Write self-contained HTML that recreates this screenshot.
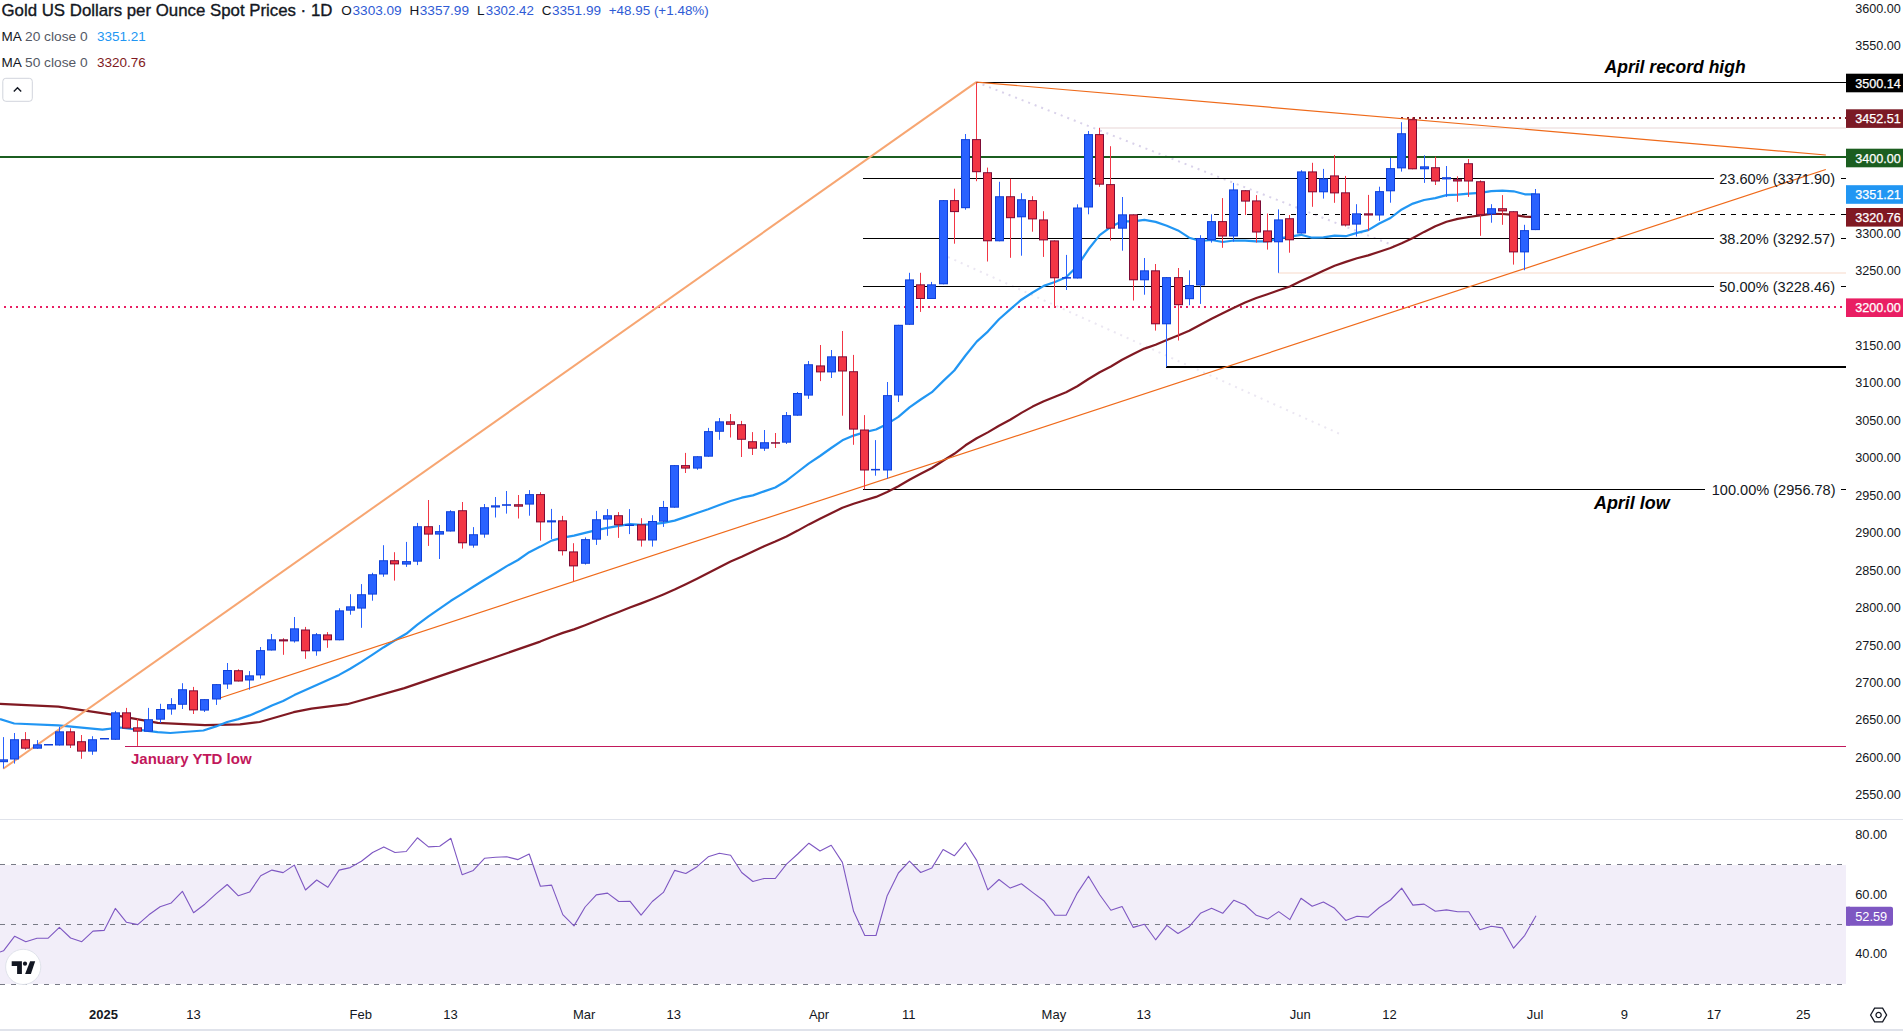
<!DOCTYPE html><html><head><meta charset="utf-8"><style>
html,body{margin:0;padding:0;background:#fff;}
body{width:1903px;height:1031px;overflow:hidden;position:relative;}
svg{position:absolute;left:0;top:0;}
text{font-family:"Liberation Sans", sans-serif;}
</style></head><body>
<svg width="1903" height="1031" viewBox="0 0 1903 1031">

<rect x="0" y="865.1" width="1846" height="118.9" fill="#f2eef9"/>
<line x1="0" y1="864.5" x2="1846" y2="864.5" stroke="#787b86" stroke-width="1" stroke-dasharray="5 6"/>
<line x1="0" y1="924.5" x2="1846" y2="924.5" stroke="#787b86" stroke-width="1" stroke-dasharray="5 6"/>
<line x1="0" y1="984.5" x2="1846" y2="984.5" stroke="#787b86" stroke-width="1" stroke-dasharray="5 6"/>
<polyline fill="none" stroke="#7e57c2" stroke-width="1.1" stroke-linejoin="round" points="0.0,952.0 3.5,950.8 14.7,936.2 25.8,941.7 37.0,938.2 48.2,938.2 59.4,927.4 70.6,938.0 81.8,941.7 93.0,931.1 104.1,930.4 115.3,908.4 126.5,922.3 137.7,924.6 148.9,914.8 160.1,906.7 171.3,902.9 182.4,891.3 193.6,912.7 204.8,904.2 216.0,893.8 227.2,884.5 238.4,895.8 249.6,892.1 260.7,875.7 271.9,870.1 283.1,872.6 294.3,865.1 305.5,890.0 316.7,880.0 327.9,887.3 339.1,870.1 350.2,867.6 361.4,861.3 372.6,852.5 383.8,846.9 395.0,852.5 406.2,851.5 417.4,837.8 428.5,846.9 439.7,846.2 450.9,838.3 462.1,874.7 473.3,870.4 484.5,858.3 495.7,857.3 506.8,856.8 518.0,859.6 529.2,854.0 540.4,886.3 551.6,885.1 562.8,914.6 574.0,925.9 585.1,907.0 596.3,894.9 607.5,893.1 618.7,901.5 629.9,901.2 641.1,915.1 652.3,901.5 663.4,892.4 674.6,870.4 685.8,873.5 697.0,866.7 708.2,856.8 719.4,853.3 730.6,855.3 741.7,872.5 752.9,881.5 764.1,878.5 775.3,878.5 786.5,864.1 797.7,854.0 808.9,843.2 820.0,851.0 831.2,845.2 842.4,862.4 853.6,911.3 864.8,935.5 876.0,935.5 887.2,895.7 898.4,873.0 909.5,861.1 920.7,872.5 931.9,867.9 943.1,849.5 954.3,855.8 965.5,842.7 976.7,860.4 987.8,889.9 999.0,879.5 1010.2,888.1 1021.4,883.8 1032.6,892.4 1043.8,900.7 1055.0,915.3 1066.1,915.3 1077.3,893.1 1088.5,876.2 1099.7,894.7 1110.9,910.3 1122.1,906.5 1133.3,927.4 1144.4,924.2 1155.6,939.8 1166.8,925.4 1178.0,933.5 1189.2,926.7 1200.4,913.3 1211.6,908.3 1222.7,913.3 1233.9,900.2 1245.1,905.0 1256.3,915.3 1267.5,919.1 1278.7,911.6 1289.9,919.6 1301.0,898.2 1312.2,906.3 1323.4,902.0 1334.6,908.3 1345.8,920.4 1357.0,916.3 1368.2,917.1 1379.3,907.5 1390.5,900.0 1401.7,888.1 1412.9,905.1 1424.1,904.1 1435.3,911.2 1446.5,909.9 1457.7,911.7 1468.8,911.7 1480.0,929.7 1491.2,926.3 1502.4,927.9 1513.6,948.2 1524.8,935.3 1536.0,915.7"/>
<rect x="0" y="819" width="1903" height="1" fill="#e0e3eb"/>
<rect x="0" y="1029" width="1903" height="2" fill="#e0e3eb"/>
<line x1="976" y1="82" x2="1400" y2="248" stroke="#d9d2ea" stroke-width="2" stroke-dasharray="2 5"/>
<line x1="948" y1="257" x2="1343.5" y2="435.6" stroke="#ebe7f2" stroke-width="2" stroke-dasharray="2 5"/>
<line x1="1100" y1="128" x2="1846" y2="128" stroke="#f3eaea" stroke-width="2" opacity="1"/>
<line x1="1278" y1="273" x2="1846" y2="273" stroke="#fbece4" stroke-width="2" opacity="1"/>
<line x1="976" y1="82.5" x2="1846" y2="82.5" stroke="#000000" stroke-width="1" opacity="1"/>
<line x1="1401" y1="118" x2="1846" y2="118" stroke="#801922" stroke-width="2" stroke-dasharray="2 4" opacity="1"/>
<line x1="0" y1="157" x2="1846" y2="157" stroke="#1b5e20" stroke-width="2" opacity="1"/>
<line x1="1137" y1="214.5" x2="1846" y2="214.5" stroke="#000000" stroke-width="1" stroke-dasharray="5 6" opacity="1"/>
<line x1="863" y1="178.5" x2="1714" y2="178.5" stroke="#000000" stroke-width="1" opacity="1"/>
<line x1="1841" y1="178.5" x2="1846" y2="178.5" stroke="#000000" stroke-width="1" opacity="1"/>
<line x1="863" y1="238.5" x2="1714" y2="238.5" stroke="#000000" stroke-width="1" opacity="1"/>
<line x1="1841" y1="238.5" x2="1846" y2="238.5" stroke="#000000" stroke-width="1" opacity="1"/>
<line x1="863" y1="286.5" x2="1714" y2="286.5" stroke="#000000" stroke-width="1" opacity="1"/>
<line x1="1841" y1="286.5" x2="1846" y2="286.5" stroke="#000000" stroke-width="1" opacity="1"/>
<line x1="863" y1="489.5" x2="1705" y2="489.5" stroke="#000000" stroke-width="1" opacity="1"/>
<line x1="1841" y1="489.5" x2="1846" y2="489.5" stroke="#000000" stroke-width="1" opacity="1"/>
<line x1="4" y1="307" x2="1846" y2="307" stroke="#e91e63" stroke-width="2" stroke-dasharray="2 4" opacity="1"/>
<line x1="1166" y1="367" x2="1846" y2="367" stroke="#000000" stroke-width="2" opacity="1"/>
<line x1="125" y1="746.5" x2="1846" y2="746.5" stroke="#c2185b" stroke-width="1" opacity="1"/>
<polyline fill="none" stroke="#801922" stroke-width="2.2" stroke-linejoin="round" points="0.0,703.8 58.3,706.6 110.4,714.4 157.7,722.8 205.0,725.2 240.0,724.4 259.7,722.0 293.6,712.2 311.5,708.6 347.2,704.2 404.4,688.1 454.4,671.1 493.7,657.7 540.2,641.6 551.6,637.0 562.8,632.9 574.0,629.4 585.1,625.2 596.3,620.7 607.5,616.2 618.7,612.0 629.9,607.6 641.1,603.4 652.3,599.0 663.4,594.4 674.6,589.5 685.8,584.3 697.0,578.8 708.2,573.0 719.4,567.2 730.6,561.6 741.7,556.7 752.9,551.4 764.1,546.3 775.3,541.5 786.5,536.4 797.7,530.6 808.9,524.4 820.0,518.8 831.2,513.2 842.4,507.8 853.6,503.8 864.8,500.2 876.0,496.9 887.2,492.0 898.4,486.3 909.5,479.7 920.7,473.8 931.9,468.0 943.1,460.8 954.3,453.8 965.5,445.3 976.7,438.2 987.8,432.4 999.0,425.7 1010.2,419.8 1021.4,412.9 1032.6,406.6 1043.8,401.3 1055.0,396.8 1066.1,392.2 1077.3,386.2 1088.5,379.0 1099.7,372.3 1110.9,366.5 1122.1,359.7 1133.3,354.0 1144.4,348.6 1155.6,344.7 1166.8,340.0 1178.0,335.6 1189.2,330.8 1200.4,324.7 1211.6,318.7 1222.7,313.3 1233.9,307.8 1245.1,302.5 1256.3,298.0 1267.5,294.2 1278.7,290.2 1289.9,286.5 1301.0,281.1 1312.2,276.0 1323.4,270.7 1334.6,265.7 1345.8,261.9 1357.0,258.3 1368.2,255.4 1379.3,251.7 1390.5,248.0 1401.7,243.2 1412.9,238.0 1424.1,231.9 1435.3,226.2 1446.5,221.8 1457.7,218.9 1468.8,217.0 1480.0,215.3 1491.2,213.8 1502.4,214.0 1513.6,214.8 1524.8,216.6 1536.0,217.1"/>
<polyline fill="none" stroke="#2196f3" stroke-width="2.2" stroke-linejoin="round" points="0.0,719.0 14.2,723.5 58.3,725.3 102.5,729.6 119.8,727.5 157.7,732.2 170.3,733.0 203.4,730.5 216.0,726.4 227.2,722.0 238.4,719.1 249.6,715.4 260.7,710.7 271.9,705.5 283.1,701.0 294.3,695.1 305.5,690.1 316.7,684.9 327.9,680.0 339.1,674.9 350.2,668.8 361.4,661.9 372.6,654.6 383.8,647.2 395.0,640.2 406.2,633.8 417.4,624.6 428.5,616.4 439.7,608.7 450.9,600.8 462.1,593.9 473.3,586.8 484.5,579.7 495.7,573.0 506.8,566.1 518.0,560.0 529.2,552.2 540.4,546.6 551.6,540.6 562.8,537.6 574.0,535.6 585.1,532.9 596.3,530.1 607.5,527.9 618.7,525.9 629.9,524.1 641.1,524.8 652.3,524.1 663.4,522.9 674.6,520.6 685.8,516.9 697.0,513.0 708.2,509.2 719.4,505.0 730.6,501.0 741.7,497.7 752.9,495.4 764.1,491.4 775.3,487.5 786.5,480.7 797.7,472.0 808.9,463.3 820.0,456.0 831.2,448.0 842.4,440.3 853.6,435.6 864.8,432.1 876.0,429.5 887.2,423.9 898.4,416.9 909.5,407.4 920.7,399.5 931.9,392.2 943.1,381.1 954.3,370.5 965.5,355.5 976.7,341.6 987.8,331.6 999.0,319.3 1010.2,309.4 1021.4,299.7 1032.6,292.5 1043.8,285.9 1055.0,282.0 1066.1,277.3 1077.3,266.2 1088.5,249.3 1099.7,235.1 1110.9,226.8 1122.1,221.3 1133.3,221.3 1144.4,219.9 1155.6,221.9 1166.8,225.7 1178.0,230.4 1189.2,237.7 1200.4,241.0 1211.6,240.0 1222.7,242.0 1233.9,240.5 1245.1,240.7 1256.3,241.3 1267.5,241.4 1278.7,238.5 1289.9,236.6 1301.0,234.8 1312.2,237.7 1323.4,237.4 1334.6,235.7 1345.8,236.2 1357.0,232.9 1368.2,230.1 1379.3,223.5 1390.5,218.0 1401.7,209.4 1412.9,203.6 1424.1,200.0 1435.3,198.1 1446.5,195.1 1457.7,194.7 1468.8,193.7 1480.0,192.8 1491.2,191.1 1502.4,190.7 1513.6,191.3 1524.8,194.3 1536.0,194.3"/>
<line x1="3.2" y1="768.8" x2="976.3" y2="82.1" stroke="#f7a672" stroke-width="2"/>
<line x1="976.3" y1="82.1" x2="1825.8" y2="155" stroke="#ef6a1a" stroke-width="1.2"/>
<line x1="220.7" y1="697.8" x2="1825.8" y2="169.5" stroke="#ef6a1a" stroke-width="1.2"/>
<rect x="3.0" y="737.1" width="1" height="31.3" fill="#2962ff"/>
<rect x="-1.0" y="759.3" width="9" height="2.9" fill="#0f40d8"/>
<rect x="0.0" y="760.3" width="7" height="0.9" fill="#2962ff"/>
<rect x="14.0" y="733.0" width="1" height="30.6" fill="#2962ff"/>
<rect x="10.0" y="739.2" width="9" height="20.3" fill="#0f40d8"/>
<rect x="11.0" y="740.2" width="7" height="18.3" fill="#2962ff"/>
<rect x="25.0" y="732.1" width="1" height="17.6" fill="#f23645"/>
<rect x="21.0" y="739.2" width="9" height="9.5" fill="#7d0b35"/>
<rect x="22.0" y="740.2" width="7" height="7.5" fill="#f23645"/>
<rect x="37.0" y="740.1" width="1" height="8.6" fill="#2962ff"/>
<rect x="33.0" y="744.3" width="9" height="4.4" fill="#0f40d8"/>
<rect x="34.0" y="745.3" width="7" height="2.4" fill="#2962ff"/>
<rect x="48.0" y="744.0" width="1" height="1.0" fill="#2962ff"/>
<rect x="44.0" y="744.0" width="9" height="1.5" fill="#0f40d8"/>
<rect x="59.0" y="726.9" width="1" height="18.6" fill="#2962ff"/>
<rect x="55.0" y="731.3" width="9" height="14.2" fill="#0f40d8"/>
<rect x="56.0" y="732.3" width="7" height="12.2" fill="#2962ff"/>
<rect x="70.0" y="728.3" width="1" height="19.7" fill="#f23645"/>
<rect x="66.0" y="731.3" width="9" height="14.2" fill="#7d0b35"/>
<rect x="67.0" y="732.3" width="7" height="12.2" fill="#f23645"/>
<rect x="81.0" y="735.0" width="1" height="23.8" fill="#f23645"/>
<rect x="77.0" y="741.2" width="9" height="10.4" fill="#7d0b35"/>
<rect x="78.0" y="742.2" width="7" height="8.4" fill="#f23645"/>
<rect x="92.0" y="736.2" width="1" height="18.6" fill="#2962ff"/>
<rect x="88.0" y="739.2" width="9" height="12.4" fill="#0f40d8"/>
<rect x="89.0" y="740.2" width="7" height="10.4" fill="#2962ff"/>
<rect x="104.0" y="738.0" width="1" height="1.0" fill="#2962ff"/>
<rect x="100.0" y="738.0" width="9" height="1.5" fill="#0f40d8"/>
<rect x="115.0" y="710.9" width="1" height="28.9" fill="#2962ff"/>
<rect x="111.0" y="712.3" width="9" height="27.5" fill="#0f40d8"/>
<rect x="112.0" y="713.3" width="7" height="25.5" fill="#2962ff"/>
<rect x="126.0" y="707.9" width="1" height="20.7" fill="#f23645"/>
<rect x="122.0" y="712.3" width="9" height="16.3" fill="#7d0b35"/>
<rect x="123.0" y="713.3" width="7" height="14.3" fill="#f23645"/>
<rect x="137.0" y="718.8" width="1" height="27.1" fill="#f23645"/>
<rect x="133.0" y="727.3" width="9" height="4.4" fill="#7d0b35"/>
<rect x="134.0" y="728.3" width="7" height="2.4" fill="#f23645"/>
<rect x="148.0" y="707.9" width="1" height="23.8" fill="#2962ff"/>
<rect x="144.0" y="719.2" width="9" height="12.5" fill="#0f40d8"/>
<rect x="145.0" y="720.2" width="7" height="10.5" fill="#2962ff"/>
<rect x="160.0" y="703.8" width="1" height="19.1" fill="#2962ff"/>
<rect x="156.0" y="709.0" width="9" height="10.7" fill="#0f40d8"/>
<rect x="157.0" y="710.0" width="7" height="8.7" fill="#2962ff"/>
<rect x="171.0" y="698.1" width="1" height="16.6" fill="#2962ff"/>
<rect x="167.0" y="704.1" width="9" height="5.4" fill="#0f40d8"/>
<rect x="168.0" y="705.1" width="7" height="3.4" fill="#2962ff"/>
<rect x="182.0" y="683.2" width="1" height="25.8" fill="#2962ff"/>
<rect x="178.0" y="689.2" width="9" height="15.6" fill="#0f40d8"/>
<rect x="179.0" y="690.2" width="7" height="13.6" fill="#2962ff"/>
<rect x="193.0" y="686.9" width="1" height="27.1" fill="#f23645"/>
<rect x="189.0" y="690.3" width="9" height="20.1" fill="#7d0b35"/>
<rect x="190.0" y="691.3" width="7" height="18.1" fill="#f23645"/>
<rect x="204.0" y="699.1" width="1" height="12.9" fill="#2962ff"/>
<rect x="200.0" y="699.1" width="9" height="11.5" fill="#0f40d8"/>
<rect x="201.0" y="700.1" width="7" height="9.5" fill="#2962ff"/>
<rect x="216.0" y="684.1" width="1" height="20.8" fill="#2962ff"/>
<rect x="212.0" y="684.1" width="9" height="15.4" fill="#0f40d8"/>
<rect x="213.0" y="685.1" width="7" height="13.4" fill="#2962ff"/>
<rect x="227.0" y="663.0" width="1" height="25.9" fill="#2962ff"/>
<rect x="223.0" y="670.0" width="9" height="14.5" fill="#0f40d8"/>
<rect x="224.0" y="671.0" width="7" height="12.5" fill="#2962ff"/>
<rect x="238.0" y="669.3" width="1" height="12.2" fill="#f23645"/>
<rect x="234.0" y="670.2" width="9" height="11.3" fill="#7d0b35"/>
<rect x="235.0" y="671.2" width="7" height="9.3" fill="#f23645"/>
<rect x="249.0" y="671.1" width="1" height="18.6" fill="#2962ff"/>
<rect x="245.0" y="675.3" width="9" height="5.2" fill="#0f40d8"/>
<rect x="246.0" y="676.3" width="7" height="3.2" fill="#2962ff"/>
<rect x="260.0" y="647.0" width="1" height="31.7" fill="#2962ff"/>
<rect x="256.0" y="650.1" width="9" height="25.3" fill="#0f40d8"/>
<rect x="257.0" y="651.1" width="7" height="23.3" fill="#2962ff"/>
<rect x="271.0" y="634.0" width="1" height="16.5" fill="#2962ff"/>
<rect x="267.0" y="639.3" width="9" height="11.2" fill="#0f40d8"/>
<rect x="268.0" y="640.3" width="7" height="9.2" fill="#2962ff"/>
<rect x="283.0" y="638.2" width="1" height="16.6" fill="#f23645"/>
<rect x="279.0" y="639.3" width="9" height="2.1" fill="#7d0b35"/>
<rect x="280.0" y="640.3" width="7" height="0.1" fill="#f23645"/>
<rect x="294.0" y="617.0" width="1" height="25.6" fill="#2962ff"/>
<rect x="290.0" y="628.3" width="9" height="13.1" fill="#0f40d8"/>
<rect x="291.0" y="629.3" width="7" height="11.1" fill="#2962ff"/>
<rect x="305.0" y="626.9" width="1" height="31.9" fill="#f23645"/>
<rect x="301.0" y="629.5" width="9" height="21.8" fill="#7d0b35"/>
<rect x="302.0" y="630.5" width="7" height="19.8" fill="#f23645"/>
<rect x="316.0" y="633.0" width="1" height="22.7" fill="#2962ff"/>
<rect x="312.0" y="634.2" width="9" height="17.1" fill="#0f40d8"/>
<rect x="313.0" y="635.2" width="7" height="15.1" fill="#2962ff"/>
<rect x="327.0" y="632.1" width="1" height="15.7" fill="#f23645"/>
<rect x="323.0" y="634.4" width="9" height="5.9" fill="#7d0b35"/>
<rect x="324.0" y="635.4" width="7" height="3.9" fill="#f23645"/>
<rect x="339.0" y="608.2" width="1" height="32.1" fill="#2962ff"/>
<rect x="335.0" y="610.3" width="9" height="30.0" fill="#0f40d8"/>
<rect x="336.0" y="611.3" width="7" height="28.0" fill="#2962ff"/>
<rect x="350.0" y="594.2" width="1" height="20.5" fill="#2962ff"/>
<rect x="346.0" y="606.3" width="9" height="4.4" fill="#0f40d8"/>
<rect x="347.0" y="607.3" width="7" height="2.4" fill="#2962ff"/>
<rect x="361.0" y="584.1" width="1" height="43.7" fill="#2962ff"/>
<rect x="357.0" y="594.2" width="9" height="14.4" fill="#0f40d8"/>
<rect x="358.0" y="595.2" width="7" height="12.4" fill="#2962ff"/>
<rect x="372.0" y="572.8" width="1" height="27.9" fill="#2962ff"/>
<rect x="368.0" y="574.2" width="9" height="20.4" fill="#0f40d8"/>
<rect x="369.0" y="575.2" width="7" height="18.4" fill="#2962ff"/>
<rect x="383.0" y="545.2" width="1" height="31.6" fill="#2962ff"/>
<rect x="379.0" y="560.2" width="9" height="14.3" fill="#0f40d8"/>
<rect x="380.0" y="561.2" width="7" height="12.3" fill="#2962ff"/>
<rect x="394.0" y="552.2" width="1" height="28.4" fill="#f23645"/>
<rect x="390.0" y="560.2" width="9" height="4.2" fill="#7d0b35"/>
<rect x="391.0" y="561.2" width="7" height="2.2" fill="#f23645"/>
<rect x="406.0" y="541.9" width="1" height="25.0" fill="#2962ff"/>
<rect x="402.0" y="561.1" width="9" height="3.5" fill="#0f40d8"/>
<rect x="403.0" y="562.1" width="7" height="1.5" fill="#2962ff"/>
<rect x="417.0" y="522.9" width="1" height="42.2" fill="#2962ff"/>
<rect x="413.0" y="526.2" width="9" height="35.5" fill="#0f40d8"/>
<rect x="414.0" y="527.2" width="7" height="33.5" fill="#2962ff"/>
<rect x="428.0" y="500.0" width="1" height="45.9" fill="#f23645"/>
<rect x="424.0" y="526.2" width="9" height="8.4" fill="#7d0b35"/>
<rect x="425.0" y="527.2" width="7" height="6.4" fill="#f23645"/>
<rect x="439.0" y="525.0" width="1" height="34.0" fill="#2962ff"/>
<rect x="435.0" y="531.1" width="9" height="3.5" fill="#0f40d8"/>
<rect x="436.0" y="532.1" width="7" height="1.5" fill="#2962ff"/>
<rect x="450.0" y="510.2" width="1" height="21.3" fill="#2962ff"/>
<rect x="446.0" y="511.2" width="9" height="20.3" fill="#0f40d8"/>
<rect x="447.0" y="512.2" width="7" height="18.3" fill="#2962ff"/>
<rect x="462.0" y="502.0" width="1" height="46.6" fill="#f23645"/>
<rect x="458.0" y="510.2" width="9" height="33.1" fill="#7d0b35"/>
<rect x="459.0" y="511.2" width="7" height="31.1" fill="#f23645"/>
<rect x="473.0" y="527.1" width="1" height="20.6" fill="#2962ff"/>
<rect x="469.0" y="534.2" width="9" height="11.4" fill="#0f40d8"/>
<rect x="470.0" y="535.2" width="7" height="9.4" fill="#2962ff"/>
<rect x="484.0" y="504.0" width="1" height="33.7" fill="#2962ff"/>
<rect x="480.0" y="507.2" width="9" height="27.4" fill="#0f40d8"/>
<rect x="481.0" y="508.2" width="7" height="25.4" fill="#2962ff"/>
<rect x="495.0" y="497.0" width="1" height="20.5" fill="#2962ff"/>
<rect x="491.0" y="505.3" width="9" height="2.2" fill="#0f40d8"/>
<rect x="492.0" y="506.3" width="7" height="0.2" fill="#2962ff"/>
<rect x="506.0" y="491.0" width="1" height="22.6" fill="#2962ff"/>
<rect x="502.0" y="504.2" width="9" height="1.6" fill="#0f40d8"/>
<rect x="518.0" y="495.0" width="1" height="23.5" fill="#f23645"/>
<rect x="514.0" y="504.2" width="9" height="2.5" fill="#7d0b35"/>
<rect x="515.0" y="505.2" width="7" height="0.5" fill="#f23645"/>
<rect x="529.0" y="490.1" width="1" height="25.6" fill="#2962ff"/>
<rect x="525.0" y="494.1" width="9" height="10.5" fill="#0f40d8"/>
<rect x="526.0" y="495.1" width="7" height="8.5" fill="#2962ff"/>
<rect x="540.0" y="492.2" width="1" height="48.5" fill="#f23645"/>
<rect x="536.0" y="494.1" width="9" height="28.3" fill="#7d0b35"/>
<rect x="537.0" y="495.1" width="7" height="26.3" fill="#f23645"/>
<rect x="551.0" y="508.9" width="1" height="30.1" fill="#2962ff"/>
<rect x="547.0" y="520.3" width="9" height="2.1" fill="#0f40d8"/>
<rect x="548.0" y="521.3" width="7" height="0.1" fill="#2962ff"/>
<rect x="562.0" y="515.9" width="1" height="39.6" fill="#f23645"/>
<rect x="558.0" y="520.3" width="9" height="30.9" fill="#7d0b35"/>
<rect x="559.0" y="521.3" width="7" height="28.9" fill="#f23645"/>
<rect x="573.0" y="543.2" width="1" height="37.8" fill="#f23645"/>
<rect x="569.0" y="551.4" width="9" height="15.0" fill="#7d0b35"/>
<rect x="570.0" y="552.4" width="7" height="13.0" fill="#f23645"/>
<rect x="585.0" y="537.4" width="1" height="27.2" fill="#2962ff"/>
<rect x="581.0" y="539.1" width="9" height="24.7" fill="#0f40d8"/>
<rect x="582.0" y="540.1" width="7" height="22.7" fill="#2962ff"/>
<rect x="596.0" y="510.9" width="1" height="34.0" fill="#2962ff"/>
<rect x="592.0" y="519.2" width="9" height="20.5" fill="#0f40d8"/>
<rect x="593.0" y="520.2" width="7" height="18.5" fill="#2962ff"/>
<rect x="607.0" y="509.1" width="1" height="26.7" fill="#2962ff"/>
<rect x="603.0" y="515.2" width="9" height="4.4" fill="#0f40d8"/>
<rect x="604.0" y="516.2" width="7" height="2.4" fill="#2962ff"/>
<rect x="618.0" y="512.1" width="1" height="25.8" fill="#f23645"/>
<rect x="614.0" y="515.2" width="9" height="10.1" fill="#7d0b35"/>
<rect x="615.0" y="516.2" width="7" height="8.1" fill="#f23645"/>
<rect x="629.0" y="509.1" width="1" height="25.0" fill="#2962ff"/>
<rect x="625.0" y="524.5" width="9" height="1.5" fill="#0f40d8"/>
<rect x="641.0" y="518.2" width="1" height="28.4" fill="#f23645"/>
<rect x="637.0" y="524.3" width="9" height="16.2" fill="#7d0b35"/>
<rect x="638.0" y="525.3" width="7" height="14.2" fill="#f23645"/>
<rect x="652.0" y="515.2" width="1" height="31.4" fill="#2962ff"/>
<rect x="648.0" y="521.0" width="9" height="19.5" fill="#0f40d8"/>
<rect x="649.0" y="522.0" width="7" height="17.5" fill="#2962ff"/>
<rect x="663.0" y="500.9" width="1" height="26.0" fill="#2962ff"/>
<rect x="659.0" y="507.0" width="9" height="14.7" fill="#0f40d8"/>
<rect x="660.0" y="508.0" width="7" height="12.7" fill="#2962ff"/>
<rect x="674.0" y="465.1" width="1" height="42.6" fill="#2962ff"/>
<rect x="670.0" y="465.1" width="9" height="42.6" fill="#0f40d8"/>
<rect x="671.0" y="466.1" width="7" height="40.6" fill="#2962ff"/>
<rect x="685.0" y="452.9" width="1" height="20.1" fill="#f23645"/>
<rect x="681.0" y="465.1" width="9" height="3.5" fill="#7d0b35"/>
<rect x="682.0" y="466.1" width="7" height="1.5" fill="#f23645"/>
<rect x="697.0" y="456.2" width="1" height="13.6" fill="#2962ff"/>
<rect x="693.0" y="456.2" width="9" height="12.4" fill="#0f40d8"/>
<rect x="694.0" y="457.2" width="7" height="10.4" fill="#2962ff"/>
<rect x="708.0" y="427.9" width="1" height="28.8" fill="#2962ff"/>
<rect x="704.0" y="431.1" width="9" height="25.6" fill="#0f40d8"/>
<rect x="705.0" y="432.1" width="7" height="23.6" fill="#2962ff"/>
<rect x="719.0" y="418.0" width="1" height="21.8" fill="#2962ff"/>
<rect x="715.0" y="421.3" width="9" height="10.5" fill="#0f40d8"/>
<rect x="716.0" y="422.3" width="7" height="8.5" fill="#2962ff"/>
<rect x="730.0" y="414.0" width="1" height="23.5" fill="#f23645"/>
<rect x="726.0" y="421.3" width="9" height="3.5" fill="#7d0b35"/>
<rect x="727.0" y="422.3" width="7" height="1.5" fill="#f23645"/>
<rect x="741.0" y="420.9" width="1" height="36.1" fill="#f23645"/>
<rect x="737.0" y="424.2" width="9" height="15.6" fill="#7d0b35"/>
<rect x="738.0" y="425.2" width="7" height="13.6" fill="#f23645"/>
<rect x="752.0" y="432.1" width="1" height="22.9" fill="#f23645"/>
<rect x="748.0" y="441.2" width="9" height="7.5" fill="#7d0b35"/>
<rect x="749.0" y="442.2" width="7" height="5.5" fill="#f23645"/>
<rect x="764.0" y="430.0" width="1" height="20.9" fill="#2962ff"/>
<rect x="760.0" y="442.2" width="9" height="6.5" fill="#0f40d8"/>
<rect x="761.0" y="443.2" width="7" height="4.5" fill="#2962ff"/>
<rect x="775.0" y="433.0" width="1" height="15.0" fill="#f23645"/>
<rect x="771.0" y="442.2" width="9" height="1.5" fill="#7d0b35"/>
<rect x="786.0" y="412.0" width="1" height="32.0" fill="#2962ff"/>
<rect x="782.0" y="415.1" width="9" height="27.6" fill="#0f40d8"/>
<rect x="783.0" y="416.1" width="7" height="25.6" fill="#2962ff"/>
<rect x="797.0" y="392.0" width="1" height="23.7" fill="#2962ff"/>
<rect x="793.0" y="393.0" width="9" height="22.7" fill="#0f40d8"/>
<rect x="794.0" y="394.0" width="7" height="20.7" fill="#2962ff"/>
<rect x="808.0" y="361.0" width="1" height="37.9" fill="#2962ff"/>
<rect x="804.0" y="364.2" width="9" height="31.4" fill="#0f40d8"/>
<rect x="805.0" y="365.2" width="7" height="29.4" fill="#2962ff"/>
<rect x="820.0" y="345.0" width="1" height="36.1" fill="#f23645"/>
<rect x="816.0" y="365.4" width="9" height="7.0" fill="#7d0b35"/>
<rect x="817.0" y="366.4" width="7" height="5.0" fill="#f23645"/>
<rect x="831.0" y="350.0" width="1" height="28.0" fill="#2962ff"/>
<rect x="827.0" y="356.3" width="9" height="16.1" fill="#0f40d8"/>
<rect x="828.0" y="357.3" width="7" height="14.1" fill="#2962ff"/>
<rect x="842.0" y="331.0" width="1" height="84.7" fill="#f23645"/>
<rect x="838.0" y="356.3" width="9" height="15.2" fill="#7d0b35"/>
<rect x="839.0" y="357.3" width="7" height="13.2" fill="#f23645"/>
<rect x="853.0" y="354.9" width="1" height="89.9" fill="#f23645"/>
<rect x="849.0" y="371.2" width="9" height="58.4" fill="#7d0b35"/>
<rect x="850.0" y="372.2" width="7" height="56.4" fill="#f23645"/>
<rect x="864.0" y="415.1" width="1" height="74.2" fill="#f23645"/>
<rect x="860.0" y="429.5" width="9" height="41.0" fill="#7d0b35"/>
<rect x="861.0" y="430.5" width="7" height="39.0" fill="#f23645"/>
<rect x="875.0" y="440.1" width="1" height="35.6" fill="#2962ff"/>
<rect x="871.0" y="468.9" width="9" height="1.5" fill="#0f40d8"/>
<rect x="887.0" y="382.0" width="1" height="96.5" fill="#2962ff"/>
<rect x="883.0" y="395.1" width="9" height="75.4" fill="#0f40d8"/>
<rect x="884.0" y="396.1" width="7" height="73.4" fill="#2962ff"/>
<rect x="898.0" y="324.8" width="1" height="77.2" fill="#2962ff"/>
<rect x="894.0" y="324.8" width="9" height="70.7" fill="#0f40d8"/>
<rect x="895.0" y="325.8" width="7" height="68.7" fill="#2962ff"/>
<rect x="909.0" y="272.8" width="1" height="52.0" fill="#2962ff"/>
<rect x="905.0" y="279.4" width="9" height="45.4" fill="#0f40d8"/>
<rect x="906.0" y="280.4" width="7" height="43.4" fill="#2962ff"/>
<rect x="920.0" y="272.8" width="1" height="39.1" fill="#f23645"/>
<rect x="916.0" y="284.3" width="9" height="14.7" fill="#7d0b35"/>
<rect x="917.0" y="285.3" width="7" height="12.7" fill="#f23645"/>
<rect x="931.0" y="281.9" width="1" height="17.1" fill="#2962ff"/>
<rect x="927.0" y="284.3" width="9" height="14.7" fill="#0f40d8"/>
<rect x="928.0" y="285.3" width="7" height="12.7" fill="#2962ff"/>
<rect x="943.0" y="200.1" width="1" height="84.2" fill="#2962ff"/>
<rect x="939.0" y="200.1" width="9" height="84.2" fill="#0f40d8"/>
<rect x="940.0" y="201.1" width="7" height="82.2" fill="#2962ff"/>
<rect x="954.0" y="188.7" width="1" height="55.0" fill="#f23645"/>
<rect x="950.0" y="200.1" width="9" height="12.0" fill="#7d0b35"/>
<rect x="951.0" y="201.1" width="7" height="10.0" fill="#f23645"/>
<rect x="965.0" y="134.0" width="1" height="75.7" fill="#2962ff"/>
<rect x="961.0" y="139.1" width="9" height="69.1" fill="#0f40d8"/>
<rect x="962.0" y="140.1" width="7" height="67.1" fill="#2962ff"/>
<rect x="976.0" y="82.9" width="1" height="98.3" fill="#f23645"/>
<rect x="972.0" y="139.1" width="9" height="33.1" fill="#7d0b35"/>
<rect x="973.0" y="140.1" width="7" height="31.1" fill="#f23645"/>
<rect x="987.0" y="167.6" width="1" height="93.9" fill="#f23645"/>
<rect x="983.0" y="172.2" width="9" height="69.1" fill="#7d0b35"/>
<rect x="984.0" y="173.2" width="7" height="67.1" fill="#f23645"/>
<rect x="999.0" y="181.8" width="1" height="59.5" fill="#2962ff"/>
<rect x="995.0" y="196.2" width="9" height="45.1" fill="#0f40d8"/>
<rect x="996.0" y="197.2" width="7" height="43.1" fill="#2962ff"/>
<rect x="1010.0" y="178.8" width="1" height="79.0" fill="#f23645"/>
<rect x="1006.0" y="196.2" width="9" height="22.0" fill="#7d0b35"/>
<rect x="1007.0" y="197.2" width="7" height="20.0" fill="#f23645"/>
<rect x="1021.0" y="193.2" width="1" height="62.5" fill="#2962ff"/>
<rect x="1017.0" y="199.2" width="9" height="18.1" fill="#0f40d8"/>
<rect x="1018.0" y="200.2" width="7" height="16.1" fill="#2962ff"/>
<rect x="1032.0" y="196.2" width="1" height="35.5" fill="#f23645"/>
<rect x="1028.0" y="200.1" width="9" height="19.3" fill="#7d0b35"/>
<rect x="1029.0" y="201.1" width="7" height="17.3" fill="#f23645"/>
<rect x="1043.0" y="211.2" width="1" height="45.7" fill="#f23645"/>
<rect x="1039.0" y="219.4" width="9" height="21.0" fill="#7d0b35"/>
<rect x="1040.0" y="220.4" width="7" height="19.0" fill="#f23645"/>
<rect x="1054.0" y="240.4" width="1" height="67.1" fill="#f23645"/>
<rect x="1050.0" y="240.4" width="9" height="37.9" fill="#7d0b35"/>
<rect x="1051.0" y="241.4" width="7" height="35.9" fill="#f23645"/>
<rect x="1066.0" y="254.9" width="1" height="35.1" fill="#2962ff"/>
<rect x="1062.0" y="277.1" width="9" height="1.5" fill="#0f40d8"/>
<rect x="1077.0" y="204.3" width="1" height="74.2" fill="#2962ff"/>
<rect x="1073.0" y="207.5" width="9" height="71.0" fill="#0f40d8"/>
<rect x="1074.0" y="208.5" width="7" height="69.0" fill="#2962ff"/>
<rect x="1088.0" y="131.0" width="1" height="83.3" fill="#2962ff"/>
<rect x="1084.0" y="134.1" width="9" height="73.4" fill="#0f40d8"/>
<rect x="1085.0" y="135.1" width="7" height="71.4" fill="#2962ff"/>
<rect x="1099.0" y="127.8" width="1" height="59.0" fill="#f23645"/>
<rect x="1095.0" y="134.1" width="9" height="50.6" fill="#7d0b35"/>
<rect x="1096.0" y="135.1" width="7" height="48.6" fill="#f23645"/>
<rect x="1110.0" y="146.2" width="1" height="94.3" fill="#f23645"/>
<rect x="1106.0" y="184.1" width="9" height="44.6" fill="#7d0b35"/>
<rect x="1107.0" y="185.1" width="7" height="42.6" fill="#f23645"/>
<rect x="1122.0" y="197.0" width="1" height="53.7" fill="#2962ff"/>
<rect x="1118.0" y="214.3" width="9" height="14.4" fill="#0f40d8"/>
<rect x="1119.0" y="215.3" width="7" height="12.4" fill="#2962ff"/>
<rect x="1133.0" y="214.3" width="1" height="86.2" fill="#f23645"/>
<rect x="1129.0" y="214.3" width="9" height="66.0" fill="#7d0b35"/>
<rect x="1130.0" y="215.3" width="7" height="64.0" fill="#f23645"/>
<rect x="1144.0" y="258.0" width="1" height="36.7" fill="#2962ff"/>
<rect x="1140.0" y="270.3" width="9" height="10.0" fill="#0f40d8"/>
<rect x="1141.0" y="271.3" width="7" height="8.0" fill="#2962ff"/>
<rect x="1155.0" y="264.0" width="1" height="66.6" fill="#f23645"/>
<rect x="1151.0" y="270.3" width="9" height="54.0" fill="#7d0b35"/>
<rect x="1152.0" y="271.3" width="7" height="52.0" fill="#f23645"/>
<rect x="1166.0" y="277.1" width="1" height="89.6" fill="#2962ff"/>
<rect x="1162.0" y="277.1" width="9" height="47.2" fill="#0f40d8"/>
<rect x="1163.0" y="278.1" width="7" height="45.2" fill="#2962ff"/>
<rect x="1178.0" y="268.0" width="1" height="72.5" fill="#f23645"/>
<rect x="1174.0" y="277.1" width="9" height="28.1" fill="#7d0b35"/>
<rect x="1175.0" y="278.1" width="7" height="26.1" fill="#f23645"/>
<rect x="1189.0" y="270.3" width="1" height="34.9" fill="#2962ff"/>
<rect x="1185.0" y="285.0" width="9" height="14.2" fill="#0f40d8"/>
<rect x="1186.0" y="286.0" width="7" height="12.2" fill="#2962ff"/>
<rect x="1200.0" y="235.2" width="1" height="68.7" fill="#2962ff"/>
<rect x="1196.0" y="238.0" width="9" height="47.5" fill="#0f40d8"/>
<rect x="1197.0" y="239.0" width="7" height="45.5" fill="#2962ff"/>
<rect x="1211.0" y="214.3" width="1" height="28.3" fill="#2962ff"/>
<rect x="1207.0" y="221.1" width="9" height="19.2" fill="#0f40d8"/>
<rect x="1208.0" y="222.1" width="7" height="17.2" fill="#2962ff"/>
<rect x="1222.0" y="198.1" width="1" height="49.7" fill="#f23645"/>
<rect x="1218.0" y="221.1" width="9" height="15.4" fill="#7d0b35"/>
<rect x="1219.0" y="222.1" width="7" height="13.4" fill="#f23645"/>
<rect x="1233.0" y="182.9" width="1" height="58.8" fill="#2962ff"/>
<rect x="1229.0" y="189.4" width="9" height="47.1" fill="#0f40d8"/>
<rect x="1230.0" y="190.4" width="7" height="45.1" fill="#2962ff"/>
<rect x="1245.0" y="190.2" width="1" height="24.8" fill="#f23645"/>
<rect x="1241.0" y="190.2" width="9" height="11.4" fill="#7d0b35"/>
<rect x="1242.0" y="191.2" width="7" height="9.4" fill="#f23645"/>
<rect x="1256.0" y="195.1" width="1" height="47.5" fill="#f23645"/>
<rect x="1252.0" y="200.4" width="9" height="32.1" fill="#7d0b35"/>
<rect x="1253.0" y="201.4" width="7" height="30.1" fill="#f23645"/>
<rect x="1267.0" y="213.5" width="1" height="36.1" fill="#f23645"/>
<rect x="1263.0" y="230.4" width="9" height="11.9" fill="#7d0b35"/>
<rect x="1264.0" y="231.4" width="7" height="9.9" fill="#f23645"/>
<rect x="1278.0" y="209.4" width="1" height="63.4" fill="#2962ff"/>
<rect x="1274.0" y="219.4" width="9" height="22.9" fill="#0f40d8"/>
<rect x="1275.0" y="220.4" width="7" height="20.9" fill="#2962ff"/>
<rect x="1289.0" y="215.0" width="1" height="37.7" fill="#f23645"/>
<rect x="1285.0" y="218.2" width="9" height="22.1" fill="#7d0b35"/>
<rect x="1286.0" y="219.2" width="7" height="20.1" fill="#f23645"/>
<rect x="1301.0" y="170.2" width="1" height="63.3" fill="#2962ff"/>
<rect x="1297.0" y="171.4" width="9" height="62.1" fill="#0f40d8"/>
<rect x="1298.0" y="172.4" width="7" height="60.1" fill="#2962ff"/>
<rect x="1312.0" y="162.8" width="1" height="44.0" fill="#f23645"/>
<rect x="1308.0" y="171.4" width="9" height="20.9" fill="#7d0b35"/>
<rect x="1309.0" y="172.4" width="7" height="18.9" fill="#f23645"/>
<rect x="1323.0" y="168.9" width="1" height="29.7" fill="#2962ff"/>
<rect x="1319.0" y="178.4" width="9" height="13.9" fill="#0f40d8"/>
<rect x="1320.0" y="179.4" width="7" height="11.9" fill="#2962ff"/>
<rect x="1334.0" y="155.0" width="1" height="47.8" fill="#f23645"/>
<rect x="1330.0" y="175.4" width="9" height="18.0" fill="#7d0b35"/>
<rect x="1331.0" y="176.4" width="7" height="16.0" fill="#f23645"/>
<rect x="1345.0" y="175.9" width="1" height="50.6" fill="#f23645"/>
<rect x="1341.0" y="192.3" width="9" height="33.2" fill="#7d0b35"/>
<rect x="1342.0" y="193.3" width="7" height="31.2" fill="#f23645"/>
<rect x="1356.0" y="204.2" width="1" height="32.3" fill="#2962ff"/>
<rect x="1352.0" y="213.3" width="9" height="11.3" fill="#0f40d8"/>
<rect x="1353.0" y="214.3" width="7" height="9.3" fill="#2962ff"/>
<rect x="1368.0" y="194.9" width="1" height="35.8" fill="#f23645"/>
<rect x="1364.0" y="213.3" width="9" height="2.2" fill="#7d0b35"/>
<rect x="1365.0" y="214.3" width="7" height="0.2" fill="#f23645"/>
<rect x="1379.0" y="186.7" width="1" height="34.1" fill="#2962ff"/>
<rect x="1375.0" y="191.1" width="9" height="24.4" fill="#0f40d8"/>
<rect x="1376.0" y="192.1" width="7" height="22.4" fill="#2962ff"/>
<rect x="1390.0" y="158.0" width="1" height="44.7" fill="#2962ff"/>
<rect x="1386.0" y="168.1" width="9" height="23.2" fill="#0f40d8"/>
<rect x="1387.0" y="169.1" width="7" height="21.2" fill="#2962ff"/>
<rect x="1401.0" y="122.2" width="1" height="49.4" fill="#2962ff"/>
<rect x="1397.0" y="133.2" width="9" height="35.2" fill="#0f40d8"/>
<rect x="1398.0" y="134.2" width="7" height="33.2" fill="#2962ff"/>
<rect x="1412.0" y="117.5" width="1" height="51.8" fill="#f23645"/>
<rect x="1408.0" y="119.2" width="9" height="50.1" fill="#7d0b35"/>
<rect x="1409.0" y="120.2" width="7" height="48.1" fill="#f23645"/>
<rect x="1424.0" y="155.3" width="1" height="27.6" fill="#2962ff"/>
<rect x="1420.0" y="166.3" width="9" height="3.0" fill="#0f40d8"/>
<rect x="1421.0" y="167.3" width="7" height="1.0" fill="#2962ff"/>
<rect x="1435.0" y="156.7" width="1" height="28.3" fill="#f23645"/>
<rect x="1431.0" y="167.2" width="9" height="14.3" fill="#7d0b35"/>
<rect x="1432.0" y="168.2" width="7" height="12.3" fill="#f23645"/>
<rect x="1446.0" y="166.0" width="1" height="30.9" fill="#2962ff"/>
<rect x="1442.0" y="177.2" width="9" height="2.2" fill="#0f40d8"/>
<rect x="1443.0" y="178.2" width="7" height="0.2" fill="#2962ff"/>
<rect x="1457.0" y="176.3" width="1" height="25.5" fill="#f23645"/>
<rect x="1453.0" y="179.1" width="9" height="2.4" fill="#7d0b35"/>
<rect x="1454.0" y="180.1" width="7" height="0.4" fill="#f23645"/>
<rect x="1468.0" y="159.0" width="1" height="37.9" fill="#f23645"/>
<rect x="1464.0" y="163.2" width="9" height="18.3" fill="#7d0b35"/>
<rect x="1465.0" y="164.2" width="7" height="16.3" fill="#f23645"/>
<rect x="1480.0" y="180.3" width="1" height="55.5" fill="#f23645"/>
<rect x="1476.0" y="181.2" width="9" height="34.0" fill="#7d0b35"/>
<rect x="1477.0" y="182.2" width="7" height="32.0" fill="#f23645"/>
<rect x="1491.0" y="204.2" width="1" height="18.5" fill="#2962ff"/>
<rect x="1487.0" y="208.2" width="9" height="6.1" fill="#0f40d8"/>
<rect x="1488.0" y="209.2" width="7" height="4.1" fill="#2962ff"/>
<rect x="1502.0" y="195.1" width="1" height="29.7" fill="#f23645"/>
<rect x="1498.0" y="208.2" width="9" height="3.2" fill="#7d0b35"/>
<rect x="1499.0" y="209.2" width="7" height="1.2" fill="#f23645"/>
<rect x="1513.0" y="211.2" width="1" height="53.4" fill="#f23645"/>
<rect x="1509.0" y="211.2" width="9" height="41.2" fill="#7d0b35"/>
<rect x="1510.0" y="212.2" width="7" height="39.2" fill="#f23645"/>
<rect x="1524.0" y="224.8" width="1" height="45.4" fill="#2962ff"/>
<rect x="1520.0" y="230.1" width="9" height="22.3" fill="#0f40d8"/>
<rect x="1521.0" y="231.1" width="7" height="20.3" fill="#2962ff"/>
<rect x="1535.0" y="189.0" width="1" height="41.1" fill="#2962ff"/>
<rect x="1531.0" y="193.4" width="9" height="36.7" fill="#0f40d8"/>
<rect x="1532.0" y="194.4" width="7" height="34.7" fill="#2962ff"/>
<text x="1604.6" y="73" font-size="18" fill="#000" font-weight="bold" font-style="italic" text-anchor="start" textLength="141" lengthAdjust="spacingAndGlyphs">April record high</text>
<text x="1594" y="509.4" font-size="18" fill="#000" font-weight="bold" font-style="italic" text-anchor="start" textLength="75.6" lengthAdjust="spacingAndGlyphs">April low</text>
<text x="131" y="764" font-size="15" fill="#c2185b" font-weight="bold" font-style="normal" text-anchor="start" textLength="120.6" lengthAdjust="spacingAndGlyphs">January YTD low</text>
<text x="1719.2" y="184.4" font-size="15" fill="#131722" font-weight="normal" font-style="normal" text-anchor="start" textLength="115.9" lengthAdjust="spacingAndGlyphs">23.60% (3371.90)</text>
<text x="1719.2" y="244.0" font-size="15" fill="#131722" font-weight="normal" font-style="normal" text-anchor="start" textLength="115.9" lengthAdjust="spacingAndGlyphs">38.20% (3292.57)</text>
<text x="1719.2" y="291.70000000000005" font-size="15" fill="#131722" font-weight="normal" font-style="normal" text-anchor="start" textLength="115.9" lengthAdjust="spacingAndGlyphs">50.00% (3228.46)</text>
<text x="1711.7" y="495.0" font-size="15" fill="#131722" font-weight="normal" font-style="normal" text-anchor="start" textLength="123.9" lengthAdjust="spacingAndGlyphs">100.00% (2956.78)</text>
<text x="1855.3" y="13.0" font-size="12" fill="#131722" font-weight="normal" font-style="normal" text-anchor="start" textLength="45.6" lengthAdjust="spacingAndGlyphs">3600.00</text>
<text x="1855.3" y="50.443" font-size="12" fill="#131722" font-weight="normal" font-style="normal" text-anchor="start" textLength="45.6" lengthAdjust="spacingAndGlyphs">3550.00</text>
<text x="1855.3" y="237.658" font-size="12" fill="#131722" font-weight="normal" font-style="normal" text-anchor="start" textLength="45.6" lengthAdjust="spacingAndGlyphs">3300.00</text>
<text x="1855.3" y="275.101" font-size="12" fill="#131722" font-weight="normal" font-style="normal" text-anchor="start" textLength="45.6" lengthAdjust="spacingAndGlyphs">3250.00</text>
<text x="1855.3" y="349.98699999999997" font-size="12" fill="#131722" font-weight="normal" font-style="normal" text-anchor="start" textLength="45.6" lengthAdjust="spacingAndGlyphs">3150.00</text>
<text x="1855.3" y="387.43" font-size="12" fill="#131722" font-weight="normal" font-style="normal" text-anchor="start" textLength="45.6" lengthAdjust="spacingAndGlyphs">3100.00</text>
<text x="1855.3" y="424.873" font-size="12" fill="#131722" font-weight="normal" font-style="normal" text-anchor="start" textLength="45.6" lengthAdjust="spacingAndGlyphs">3050.00</text>
<text x="1855.3" y="462.316" font-size="12" fill="#131722" font-weight="normal" font-style="normal" text-anchor="start" textLength="45.6" lengthAdjust="spacingAndGlyphs">3000.00</text>
<text x="1855.3" y="499.75899999999996" font-size="12" fill="#131722" font-weight="normal" font-style="normal" text-anchor="start" textLength="45.6" lengthAdjust="spacingAndGlyphs">2950.00</text>
<text x="1855.3" y="537.202" font-size="12" fill="#131722" font-weight="normal" font-style="normal" text-anchor="start" textLength="45.6" lengthAdjust="spacingAndGlyphs">2900.00</text>
<text x="1855.3" y="574.645" font-size="12" fill="#131722" font-weight="normal" font-style="normal" text-anchor="start" textLength="45.6" lengthAdjust="spacingAndGlyphs">2850.00</text>
<text x="1855.3" y="612.088" font-size="12" fill="#131722" font-weight="normal" font-style="normal" text-anchor="start" textLength="45.6" lengthAdjust="spacingAndGlyphs">2800.00</text>
<text x="1855.3" y="649.531" font-size="12" fill="#131722" font-weight="normal" font-style="normal" text-anchor="start" textLength="45.6" lengthAdjust="spacingAndGlyphs">2750.00</text>
<text x="1855.3" y="686.9739999999999" font-size="12" fill="#131722" font-weight="normal" font-style="normal" text-anchor="start" textLength="45.6" lengthAdjust="spacingAndGlyphs">2700.00</text>
<text x="1855.3" y="724.4169999999999" font-size="12" fill="#131722" font-weight="normal" font-style="normal" text-anchor="start" textLength="45.6" lengthAdjust="spacingAndGlyphs">2650.00</text>
<text x="1855.3" y="761.86" font-size="12" fill="#131722" font-weight="normal" font-style="normal" text-anchor="start" textLength="45.6" lengthAdjust="spacingAndGlyphs">2600.00</text>
<text x="1855.3" y="799.303" font-size="12" fill="#131722" font-weight="normal" font-style="normal" text-anchor="start" textLength="45.6" lengthAdjust="spacingAndGlyphs">2550.00</text>
<rect x="1846" y="73.7" width="57" height="18.6" fill="#000000" rx="0"/>
<text x="1855.3" y="87.58115960000009" font-size="12" fill="#ffffff" font-weight="normal" font-style="normal" text-anchor="start" textLength="45.6" lengthAdjust="spacingAndGlyphs" stroke="#ffffff" stroke-width="0.25">3500.14</text>
<rect x="1846" y="109.3" width="57" height="18.6" fill="#7b1a25" rx="0"/>
<text x="1855.3" y="123.24936139999983" font-size="12" fill="#ffffff" font-weight="normal" font-style="normal" text-anchor="start" textLength="45.6" lengthAdjust="spacingAndGlyphs" stroke="#ffffff" stroke-width="0.25">3452.51</text>
<rect x="1846" y="148.7" width="57" height="18.6" fill="#1b5e20" rx="0"/>
<text x="1855.3" y="162.57199999999997" font-size="12" fill="#ffffff" font-weight="normal" font-style="normal" text-anchor="start" textLength="45.6" lengthAdjust="spacingAndGlyphs" stroke="#ffffff" stroke-width="0.25">3400.00</text>
<rect x="1846" y="185.2" width="57" height="18.6" fill="#2196f3" rx="0"/>
<text x="1855.3" y="199.10887939999995" font-size="12" fill="#ffffff" font-weight="normal" font-style="normal" text-anchor="start" textLength="45.6" lengthAdjust="spacingAndGlyphs" stroke="#ffffff" stroke-width="0.25">3351.21</text>
<rect x="1846" y="208.0" width="57" height="18.6" fill="#801922" rx="0"/>
<text x="1855.3" y="221.9116663999998" font-size="12" fill="#ffffff" font-weight="normal" font-style="normal" text-anchor="start" textLength="45.6" lengthAdjust="spacingAndGlyphs" stroke="#ffffff" stroke-width="0.25">3320.76</text>
<rect x="1846" y="298.4" width="57" height="18.6" fill="#e91e63" rx="0"/>
<text x="1855.3" y="312.344" font-size="12" fill="#ffffff" font-weight="normal" font-style="normal" text-anchor="start" textLength="45.6" lengthAdjust="spacingAndGlyphs" stroke="#ffffff" stroke-width="0.25">3200.00</text>
<text x="1855.2" y="839.4499999999999" font-size="12" fill="#131722" font-weight="normal" font-style="normal" text-anchor="start" textLength="32" lengthAdjust="spacingAndGlyphs">80.00</text>
<text x="1855.2" y="898.9" font-size="12" fill="#131722" font-weight="normal" font-style="normal" text-anchor="start" textLength="32" lengthAdjust="spacingAndGlyphs">60.00</text>
<text x="1855.2" y="958.35" font-size="12" fill="#131722" font-weight="normal" font-style="normal" text-anchor="start" textLength="32" lengthAdjust="spacingAndGlyphs">40.00</text>
<rect x="1846" y="906.7" width="47" height="19" fill="#7e57c2" rx="2"/>
<rect x="1846" y="906.7" width="4" height="19" fill="#7e57c2"/>
<text x="1855.2" y="920.9262249999999" font-size="12" fill="#ffffff" font-weight="normal" font-style="normal" text-anchor="start" textLength="32" lengthAdjust="spacingAndGlyphs">52.59</text>
<text x="103.4" y="1019.2" font-size="13" fill="#131722" font-weight="bold" font-style="normal" text-anchor="middle">2025</text>
<text x="193.4" y="1019.2" font-size="13" fill="#131722" font-weight="normal" font-style="normal" text-anchor="middle">13</text>
<text x="360.7" y="1019.2" font-size="13" fill="#131722" font-weight="normal" font-style="normal" text-anchor="middle">Feb</text>
<text x="450.5" y="1019.2" font-size="13" fill="#131722" font-weight="normal" font-style="normal" text-anchor="middle">13</text>
<text x="584.2" y="1019.2" font-size="13" fill="#131722" font-weight="normal" font-style="normal" text-anchor="middle">Mar</text>
<text x="673.7" y="1019.2" font-size="13" fill="#131722" font-weight="normal" font-style="normal" text-anchor="middle">13</text>
<text x="819" y="1019.2" font-size="13" fill="#131722" font-weight="normal" font-style="normal" text-anchor="middle">Apr</text>
<text x="908.8" y="1019.2" font-size="13" fill="#131722" font-weight="normal" font-style="normal" text-anchor="middle">11</text>
<text x="1053.9" y="1019.2" font-size="13" fill="#131722" font-weight="normal" font-style="normal" text-anchor="middle">May</text>
<text x="1143.8" y="1019.2" font-size="13" fill="#131722" font-weight="normal" font-style="normal" text-anchor="middle">13</text>
<text x="1300.2" y="1019.2" font-size="13" fill="#131722" font-weight="normal" font-style="normal" text-anchor="middle">Jun</text>
<text x="1389.5" y="1019.2" font-size="13" fill="#131722" font-weight="normal" font-style="normal" text-anchor="middle">12</text>
<text x="1535" y="1019.2" font-size="13" fill="#131722" font-weight="normal" font-style="normal" text-anchor="middle">Jul</text>
<text x="1624.3" y="1019.2" font-size="13" fill="#131722" font-weight="normal" font-style="normal" text-anchor="middle">9</text>
<text x="1713.9" y="1019.2" font-size="13" fill="#131722" font-weight="normal" font-style="normal" text-anchor="middle">17</text>
<text x="1803.3" y="1019.2" font-size="13" fill="#131722" font-weight="normal" font-style="normal" text-anchor="middle">25</text>
<g transform="translate(1878.6,1015)" fill="none" stroke="#131722" stroke-width="1.3"><polygon points="-8,0 -4,-6.9 4,-6.9 8,0 4,6.9 -4,6.9"/><circle r="2.6"/></g>
<circle cx="23.2" cy="966.9" r="17.6" fill="#ffffff" stroke="#e0e3eb" stroke-width="1"/>
<path d="M11.7,961.3 H21.9 V973.9 H17.1 V966.1 H11.7 Z" fill="#131722"/>
<circle cx="25" cy="963.7" r="2.1" fill="#131722"/>
<path d="M30.1,961.3 H35.2 L30.9,973.9 H25.1 Z" fill="#131722"/>
<text x="1.5" y="15.5" font-size="17" fill="#131722" font-weight="normal" font-style="normal" text-anchor="start" textLength="330.9" lengthAdjust="spacingAndGlyphs" stroke="#131722" stroke-width="0.35">Gold US Dollars per Ounce Spot Prices · 1D</text>
<text x="341.3" y="15.4" font-size="13.5" fill="#131722" font-weight="normal" font-style="normal" text-anchor="start">O</text>
<text x="352.5" y="15.4" font-size="13.5" fill="#2f5bd5" font-weight="normal" font-style="normal" text-anchor="start" textLength="49.2" lengthAdjust="spacingAndGlyphs">3303.09</text>
<text x="409.5" y="15.4" font-size="13.5" fill="#131722" font-weight="normal" font-style="normal" text-anchor="start">H</text>
<text x="419.8" y="15.4" font-size="13.5" fill="#2f5bd5" font-weight="normal" font-style="normal" text-anchor="start" textLength="49.2" lengthAdjust="spacingAndGlyphs">3357.99</text>
<text x="477" y="15.4" font-size="13.5" fill="#131722" font-weight="normal" font-style="normal" text-anchor="start">L</text>
<text x="485.8" y="15.4" font-size="13.5" fill="#2f5bd5" font-weight="normal" font-style="normal" text-anchor="start" textLength="48.1" lengthAdjust="spacingAndGlyphs">3302.42</text>
<text x="541.7" y="15.4" font-size="13.5" fill="#131722" font-weight="normal" font-style="normal" text-anchor="start">C</text>
<text x="552" y="15.4" font-size="13.5" fill="#2f5bd5" font-weight="normal" font-style="normal" text-anchor="start" textLength="49" lengthAdjust="spacingAndGlyphs">3351.99</text>
<text x="608.7" y="15.4" font-size="13.5" fill="#2f5bd5" font-weight="normal" font-style="normal" text-anchor="start" textLength="100.1" lengthAdjust="spacingAndGlyphs">+48.95 (+1.48%)</text>
<text x="1.5" y="41" font-size="13.5" fill="#131722" font-weight="normal" font-style="normal" text-anchor="start">MA</text>
<text x="25" y="41" font-size="13.5" fill="#555965" font-weight="normal" font-style="normal" text-anchor="start" textLength="62.6" lengthAdjust="spacingAndGlyphs">20 close 0</text>
<text x="96.9" y="41" font-size="13.5" fill="#2196f3" font-weight="normal" font-style="normal" text-anchor="start" textLength="48.8" lengthAdjust="spacingAndGlyphs">3351.21</text>
<text x="1.5" y="67" font-size="13.5" fill="#131722" font-weight="normal" font-style="normal" text-anchor="start">MA</text>
<text x="25" y="67" font-size="13.5" fill="#555965" font-weight="normal" font-style="normal" text-anchor="start" textLength="62.6" lengthAdjust="spacingAndGlyphs">50 close 0</text>
<text x="96.9" y="67" font-size="13.5" fill="#801922" font-weight="normal" font-style="normal" text-anchor="start" textLength="48.8" lengthAdjust="spacingAndGlyphs">3320.76</text>
<rect x="2.8" y="78.3" width="29.5" height="23" rx="3" fill="#fff" stroke="#d1d4dc" stroke-width="1"/>
<path d="M13.8,91.5 L17.5,87.8 L21.2,91.5" fill="none" stroke="#131722" stroke-width="1.4"/>
</svg></body></html>
